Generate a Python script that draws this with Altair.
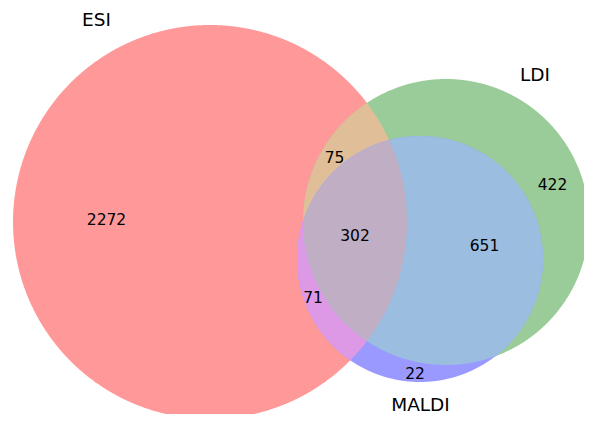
import numpy as np
import altair as alt

# ---- data ----
set_names = ["ESI", "LDI", "MALDI"]
region_keys = ["100", "010", "110", "001", "101", "011", "111"]
region_counts = [2272, 422, 75, 22, 71, 651, 302]

# ---- layout (page pixel coordinates) ----
circle_cx = [210, 446, 420]
circle_cy = [222, 222, 259]
circle_r = [197, 143, 123]

set_label_x = [96.5, 535, 420.5]
set_label_y = [26, 81, 411]
count_label_x = [106.5, 552.5, 334.5, 415, 313, 484.5, 355]
count_label_y = [225, 190, 163, 379, 303, 251, 241]

# ---- style ----
region_colors = {
    "100": "#ff9999",
    "010": "#99cc99",
    "001": "#9999ff",
    "110": "#e0be98",
    "101": "#dd99e5",
    "011": "#9bbde0",
    "111": "#bfaec4",
}

N = 1440
theta = np.linspace(0, 2 * np.pi, N, endpoint=False)


def boundary(i):
    return np.column_stack([circle_cx[i] + circle_r[i] * np.cos(theta),
                            circle_cy[i] + circle_r[i] * np.sin(theta)])


def inside(pts, j):
    d = np.hypot(pts[:, 0] - circle_cx[j], pts[:, 1] - circle_cy[j])
    return d <= circle_r[j] + 1e-9


def ring(pts):
    c = pts.mean(axis=0)
    ang = np.arctan2(pts[:, 1] - c[1], pts[:, 0] - c[0])
    pts = pts[np.argsort(ang)]
    coords = [[float(x), float(y)] for x, y in pts]
    coords.append(coords[0])
    return coords


def intersection(ids):
    parts = []
    for i in ids:
        b = boundary(i)
        mask = np.ones(len(b), dtype=bool)
        for j in ids:
            if j != i:
                mask &= inside(b, j)
        parts.append(b[mask])
    return ring(np.vstack(parts))


def feature(coords, key):
    return {"type": "Feature",
            "geometry": {"type": "Polygon", "coordinates": [coords]},
            "properties": {"fill": region_colors[key]}}


circles = [feature(ring(boundary(i)), k) for i, k in enumerate(["100", "010", "001"])]
lenses = [feature(intersection([0, 1]), "110"),
          feature(intersection([0, 2]), "101"),
          feature(intersection([1, 2]), "011")]
triple = [feature(intersection([0, 1, 2]), "111")]

proj = dict(type="identity", scale=1, translate=[-8, -8])


def shapes(feats):
    return alt.Chart(alt.Data(values=feats)).mark_geoshape(strokeWidth=0).encode(
        color=alt.Color("properties.fill:N", scale=None)
    ).project(**proj)


set_rows = [{"label": n, "x": x, "y": y} for n, x, y in zip(set_names, set_label_x, set_label_y)]
count_rows = [{"label": str(c), "x": x, "y": y}
              for c, x, y in zip(region_counts, count_label_x, count_label_y)]

set_text = alt.Chart(alt.Data(values=set_rows)).mark_text(
    font="DejaVu Sans", fontSize=18.5, align="center", baseline="alphabetic", color="#000000"
).encode(longitude="x:Q", latitude="y:Q", text="label:N").project(**proj)

count_text = alt.Chart(alt.Data(values=count_rows)).mark_text(
    font="DejaVu Sans", fontSize=15.5, align="center", baseline="alphabetic", color="#000000"
).encode(longitude="x:Q", latitude="y:Q", text="label:N").project(**proj)

chart = alt.layer(
    shapes(circles), shapes(lenses), shapes(triple), count_text, set_text
).properties(
    width=576, height=406, padding=0, autosize="none", background="white"
).configure_view(stroke=None)

chart.save("out.html", embed_options={"renderer": "svg", "actions": False})
